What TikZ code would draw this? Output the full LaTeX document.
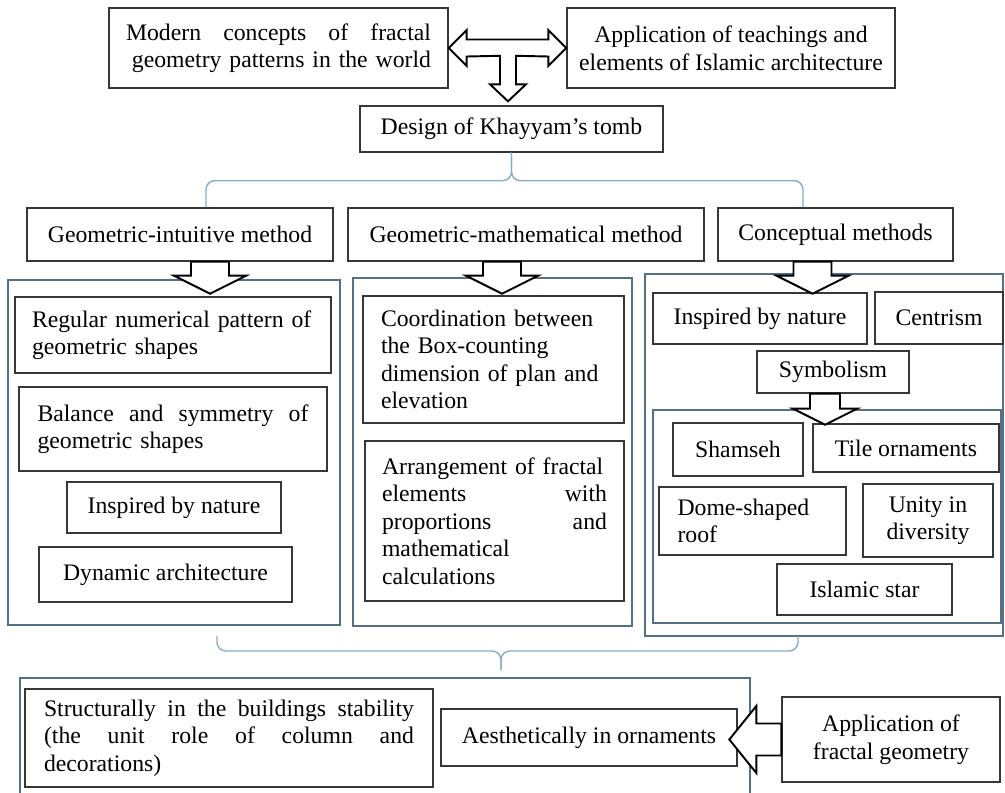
\documentclass[tikz,border=0pt]{standalone}
\usepackage{fontspec}
\setmainfont{Liberation Serif}
\usepackage{tikz}
\usetikzlibrary{calc}
\definecolor{panelblue}{RGB}{84,112,134}
\definecolor{braceblue}{RGB}{135,172,195}
\definecolor{boxgray}{RGB}{55,55,55}
\tikzset{
    box/.style={
        draw=boxgray,
        line width=0.8pt,
        fill=white,
        inner sep=2pt,
        font=\fontsize{13.5}{15.7}\selectfont
    },
    % 蓝灰色外框
    panel/.style={
        draw=panelblue,
        line width=1.2pt
    },
    % 空心粗箭头
    fatarrow/.style={
        draw=black,
        line width=1.1pt,
        fill=white,
        line join=miter
    },
    brace/.style={
        draw=braceblue,
        line width=0.8pt,
        rounded corners=5pt
    }
}

\begin{document}
\begin{tikzpicture}[x=0.02cm,y=-0.02cm]
	\useasboundingbox (0,0) rectangle (1005,792);
	
	% 外框
	\draw[panel] (8,280) rectangle (340,625);
	\draw[panel] (353,278) rectangle (632,626);
	\draw[panel] (645,274) rectangle (1003,636);
	\draw[panel] (653,410) rectangle (1001,623);
	\draw[panel] (20,678) rectangle (750,800);
	
	% 顶部
	\node[box,minimum width=6.78cm,minimum height=1.6cm,text width=6.1cm,align=right] (modern) at (278.5,48)
	{Modern\hfill concepts\hfill of\hfill fractal\\geometry patterns in the world};
	\node[box,minimum width=6.56cm,minimum height=1.6cm,align=center] (islamic) at (731,48)
	{Application of teachings and\\elements of Islamic architecture};
	\node[box,minimum width=6.06cm,minimum height=0.92cm,align=center] (design) at (511.5,129)
	{Design of Khayyam’s tomb};
	
	% 三种方法
	\node[box,minimum width=6.12cm,minimum height=1.06cm] (gi) at (180,234.5) {Geometric-intuitive method};
	\node[box,minimum width=7.12cm,minimum height=1.06cm] (gm) at (526,234.5) {Geometric-mathematical method};
	\node[box,minimum width=4.7cm,minimum height=1.06cm] (cm) at (835.5,234.5) {Conceptual methods};
	
	% 左栏
	\node[box,minimum width=6.32cm,minimum height=1.52cm,text width=5.64cm,align=left] (regular) at (173,335)
	{Regular numerical pattern of\\geometric shapes};
	\node[box,minimum width=6.16cm,minimum height=1.68cm,text width=5.42cm,align=left] (balance) at (173,429)
	{Balance\hfill and\hfill symmetry\hfill of\\geometric shapes};
	\node[box,minimum width=4.28cm,minimum height=1.02cm] (natureA) at (174,507.5) {Inspired by nature};
	\node[box,minimum width=5.06cm,minimum height=1.1cm] (dynamic) at (165.5,574.5) {Dynamic architecture};
	
	% 中栏
	\node[box,minimum width=5.22cm,minimum height=2.54cm,text width=4.5cm,align=left] (coord) at (493.5,359.5)
	{Coordination between\\the Box-counting\\dimension of plan and\\elevation};
	\node[box,minimum width=5.18cm,minimum height=3.2cm,text width=4.5cm,align=left] (arrange) at (494.5,521)
	{Arrangement of fractal\\elements\hfill with\\proportions\hfill and\\mathematical\\calculations};
	
	% 右栏
	\node[box,minimum width=4.28cm,minimum height=1.02cm] (natureB) at (760,318.5) {Inspired by nature};
	\node[box,minimum width=2.56cm,minimum height=1.04cm] (centrism) at (939,318) {Centrism};
	\node[box,minimum width=3.04cm,minimum height=0.84cm] (symbolism) at (833,372) {Symbolism};
	\node[box,minimum width=2.6cm,minimum height=1.06cm] (shamseh) at (738,449.5) {Shamseh};
	\node[box,minimum width=3.72cm,minimum height=0.96cm] (tile) at (906,448) {Tile ornaments};
	\node[box,minimum width=3.74cm,minimum height=1.36cm,text width=3cm,align=left] (dome) at (752.5,521)
	{Dome-shaped\\roof};
	\node[box,minimum width=2.6cm,minimum height=1.46cm,align=center] (unity) at (928,520.5) {Unity in\\diversity};
	\node[box,minimum width=3.5cm,minimum height=1.02cm] (star) at (864.5,589.5) {Islamic star};
	
	% 底部
	\node[box,minimum width=8.16cm,minimum height=1.96cm,text width=7.4cm,align=left] (struct) at (229,738)
	{Structurally\hfill in\hfill the\hfill buildings\hfill stability\\(the\hfill unit\hfill role\hfill of\hfill column\hfill and\\decorations)};
	\node[box,minimum width=5.92cm,minimum height=1.14cm] (aesth) at (589,737.5) {Aesthetically in ornaments};
	\node[box,minimum width=4.36cm,minimum height=1.7cm,align=center] (appl) at (891,739.5) {Application of\\fractal geometry};
	
	% 大括号
	\path 
	(206,207) coordinate (tbl)
	(803,207) coordinate (tbr)
	(217,636) coordinate (bbl)
	(798,636) coordinate (bbr)
	(501,670) coordinate (bbt);
	\draw[brace] (tbl) |- ($(design.south)+(0,28)$) -- (design.south);
	\draw[brace] (design.south) -- ($(design.south)+(0,28)$) -| (tbr);
	\draw[brace] (bbl) |- ($(bbt)+(0,-19)$) -- (bbt);
	\draw[brace] (bbt) -- ($(bbt)+(0,-19)$) -| (bbr);
	
	% 空心箭头
	\path (modern.east) coordinate (la) (islamic.west) coordinate (ra)
	($(design.north)+(-3.5,-4)$) coordinate (dt);
	\draw[fatarrow] (la) -- ++(18,-18) -- ++(0,9.5) -- ($(ra)+(-18,-8.5)$) -- ++(0,-9.5) -- (ra)
	-- ++(-18,18) -- ++(0,-9.5) -- ($(dt)+(8,-45.5)$) -- ++(0,28.5) -- ++(10,0) -- (dt)
	-- ++(-18,-17) -- ++(10,0) -- ++(0,-28.5) -- ($(la)+(18,8.5)$) -- ++(0,9.5) -- cycle;
	
	\foreach \src/\dx in {gi/30,gm/-24,cm/-23}
	\draw[fatarrow] ($(\src.south)+(\dx,0)$) ++(-19,0) -- ++(0,14) -- ++(-17,0) -- ++(36,18)
	-- ++(36,-18) -- ++(-17,0) -- ++(0,-14) -- cycle;
	
	\draw[fatarrow] ($(symbolism.south)+(-8,0)$) ++(-15,0) -- ++(0,15) -- ++(-17,0) -- ++(32,16)
	-- ++(32,-16) -- ++(-17,0) -- ++(0,-15) -- cycle;
	
	\draw[fatarrow] ($(appl.west)+(0,-16)$) -- ++(-25,0) -- ++(0,-17.5) -- ++(-27,33.5)
	-- ++(27,33.5) -- ++(0,-17.5) -- ++(25,0) -- cycle;
\end{tikzpicture}
\end{document}
